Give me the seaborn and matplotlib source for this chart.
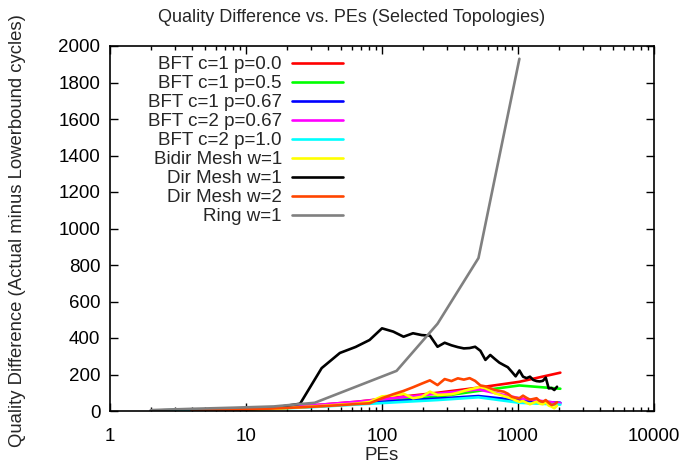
import numpy as np
import pandas as pd
import matplotlib
matplotlib.use("Agg")
import matplotlib.pyplot as plt
import seaborn as sns
from matplotlib.ticker import FixedLocator, FixedFormatter, LogLocator, NullFormatter, MultipleLocator

# ---------------- data ----------------
bft_pes = [2, 4, 8, 16, 32, 64, 128, 256, 512, 1024, 2048]
bft_c1_p00 = [3, 6, 12, 20, 32, 50, 75, 100, 128, 160, 210]
bft_c1_p05 = [3, 6, 12, 20, 30, 45, 60, 78, 110, 140, 122]
bft_c1_p067 = [2, 4, 8, 14, 25, 40, 55, 68, 82, 58, 45]
bft_c2_p067 = [3, 6, 12, 20, 32, 50, 72, 95, 118, 70, 42]
bft_c2_p10 = [2, 8, 8, 12, 22, 35, 48, 60, 75, 45, 35]

mesh_pes = [4, 9, 16, 25, 36, 49, 64, 81, 100, 121, 144, 169, 196, 225, 256,
            289, 324, 361, 400, 441, 484, 529, 576, 625, 676, 729, 784, 841,
            900, 961, 1024, 1089, 1156, 1225, 1296, 1369, 1444, 1521, 1600,
            1681, 1764, 1849, 1936]
bidir_mesh_w1 = [2, 5, 12, 20, 28, 35, 40, 50, 80, 85, 95, 70, 78, 106, 88,
                 90, 92, 100, 110, 118, 125, 132, 125, 112, 97, 90, 82, 75,
                 68, 58, 50, 55, 45, 37, 45, 51, 40, 37, 48, 30, 24, 15, 29]
dir_mesh_w1 = [3, 6, 18, 40, 235, 318, 351, 389, 453, 435, 407, 426, 416, 413,
               352, 374, 360, 350, 343, 345, 352, 330, 280, 307, 285, 265, 252,
               240, 215, 190, 222, 188, 180, 188, 170, 164, 162, 165, 183, 124,
               126, 115, 133]
dir_mesh_w2 = [3, 8, 14, 20, 26, 32, 38, 42, 70, 92, 110, 130, 150, 168, 142,
               175, 164, 179, 172, 180, 165, 140, 135, 125, 115, 110, 106, 95,
               78, 72, 70, 84, 72, 62, 66, 70, 55, 50, 60, 45, 33, 37, 48]

ring_pes = [2, 4, 8, 16, 32, 128, 256, 512, 1024]
ring_w1 = [5, 12, 18, 25, 45, 220, 478, 838, 1930]

series_names = ["BFT c=1 p=0.0", "BFT c=1 p=0.5", "BFT c=1 p=0.67",
                "BFT c=2 p=0.67", "BFT c=2 p=1.0", "Bidir Mesh w=1",
                "Dir Mesh w=1", "Dir Mesh w=2", "Ring w=1"]
series_colors = ["#ff0000", "#00ff00", "#0000ff", "#ff00ff", "#00ffff",
                 "#ffff00", "#000000", "#ff4500", "#808080"]

x_ticks = [1, 10, 100, 1000, 10000]
x_tick_labels = ["1", "10", "100", "1000", "10000"]

# ---------------- table ----------------
pairs = [(bft_pes, bft_c1_p00), (bft_pes, bft_c1_p05), (bft_pes, bft_c1_p067),
         (bft_pes, bft_c2_p067), (bft_pes, bft_c2_p10), (mesh_pes, bidir_mesh_w1),
         (mesh_pes, dir_mesh_w1), (mesh_pes, dir_mesh_w2), (ring_pes, ring_w1)]
frames = []
for name, (xs, ys) in zip(series_names, pairs):
    frames.append(pd.DataFrame({"PEs": xs, "diff": ys, "series": name}))
df = pd.concat(frames, ignore_index=True)

# ---------------- style ----------------
sns.set_theme(style="ticks")
plt.rcParams["font.family"] = ["Liberation Sans", "DejaVu Sans"]
plt.rcParams["font.size"] = 13.5

fig = plt.figure(figsize=(6.86, 4.70), dpi=100)
ax = fig.add_axes([110 / 686, 59 / 470, 544 / 686, 365 / 470])

sns.lineplot(data=df, x="PEs", y="diff", hue="series", hue_order=series_names,
             palette=dict(zip(series_names, series_colors)), estimator=None,
             sort=False, linewidth=1.9, legend=False, ax=ax)

ax.set_xscale("log")
ax.set_xlim(1, 10000)
ax.set_ylim(0, 2000)
ax.xaxis.set_major_locator(FixedLocator(x_ticks))
ax.xaxis.set_major_formatter(FixedFormatter(x_tick_labels))
ax.xaxis.set_minor_locator(LogLocator(base=10, subs=np.arange(2, 10)))
ax.xaxis.set_minor_formatter(NullFormatter())
ax.yaxis.set_major_locator(MultipleLocator(200))

ax.tick_params(axis="both", which="both", direction="in", top=True, right=True,
               colors="black", labelsize=13.5, width=1.0)
ax.tick_params(axis="x", which="major", length=6, pad=12)
ax.tick_params(axis="y", which="major", length=6, pad=7)
ax.tick_params(axis="both", which="minor", length=3)
for sp in ax.spines.values():
    sp.set_linewidth(1.2)
    sp.set_color("black")

ax.set_xlabel("")
ax.set_ylabel("")
fig.text(382 / 686, 1 - 455 / 470, "PEs", ha="center", va="center", fontsize=13.5)
fig.text(18 / 686, 1 - 231 / 470, "Quality Difference (Actual minus Lowerbound cycles)",
         ha="center", va="center", rotation=90, fontsize=13.3)
fig.text(352 / 686, 1 - 18 / 470, "Quality Difference vs. PEs (Selected Topologies)",
         ha="center", va="center", fontsize=13)

handles = ax.get_lines()[:len(series_names)]
leg = ax.legend(handles, series_names, loc="upper right",
                bbox_to_anchor=(0.428, 0.972), frameon=False, markerfirst=False,
                handlelength=2.7, handletextpad=0.55, labelspacing=0.1,
                borderpad=0, borderaxespad=0, fontsize=13.5)

fig.savefig("out.png", dpi=100)
